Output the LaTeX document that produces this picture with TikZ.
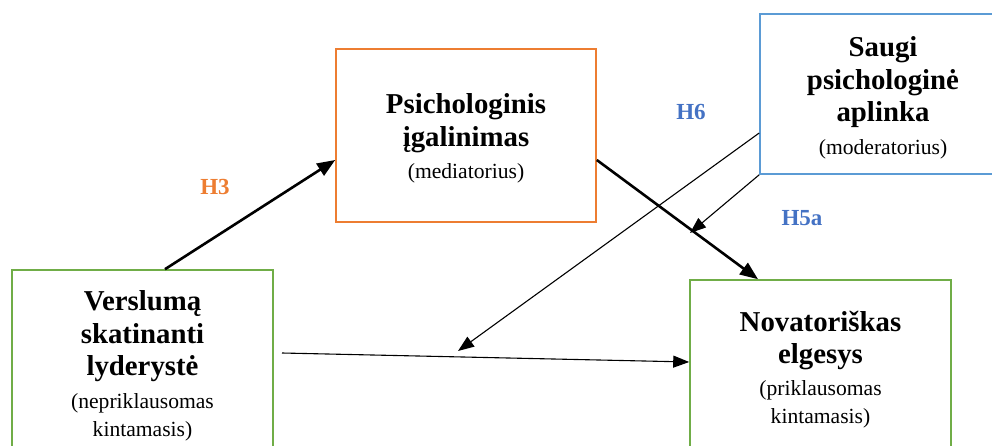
\documentclass[tikz,border=0pt]{standalone}
\usepackage{fontspec}
\setmainfont{Liberation Serif}
\usetikzlibrary{arrows.meta}

\definecolor{boxorange}{HTML}{ED7D31}
\definecolor{boxblue}{HTML}{5B9BD5}
\definecolor{boxgreen}{HTML}{70AD47}
\definecolor{hypblue}{HTML}{4472C4}

\newcommand{\titlefont}{\fontsize{28.8}{32.5}\selectfont\bfseries}
\newcommand{\rolefont}{\fontsize{21.6}{27}\selectfont\mdseries}

\tikzset{
  varbox/.style={draw, line width=1.6pt, rectangle, inner sep=0pt},
  vartext/.style={align=center, inner sep=0pt, font=\titlefont},
  strong/.style={line width=2.6pt, -{Triangle[length=18pt,width=14pt]}},
  weak/.style={line width=1.1pt, -{Triangle[length=16pt,width=12pt]}},
  hyp/.style={font=\fontsize{23}{26}\selectfont\bfseries, inner sep=0pt}
}

\begin{document}
\begin{tikzpicture}[x=1pt,y=-1pt]
  \useasboundingbox (0,0) rectangle (992,446);

  % variable boxes
  \node[varbox, draw=boxgreen, minimum width=261pt, minimum height=196pt] (vl) at (142.5,368) {};
  \node[varbox, draw=boxorange, minimum width=260pt, minimum height=173pt] (pi) at (466,135.5) {};
  \node[varbox, draw=boxblue, minimum width=246pt, minimum height=160pt] (sp) at (883,94) {};
  \node[varbox, draw=boxgreen, minimum width=261pt, minimum height=178pt] (ne) at (820.5,369) {};

  % box captions
  \node[vartext] (vl-t) at (142.5,366)
    {Verslumą\\skatinanti\\lyderystė\\{\rolefont(nepriklausomas}\\[-4.5pt]{\rolefont kintamasis)}};
  \node[vartext] (pi-t) at (466,138.5)
    {Psichologinis\\įgalinimas\\[-0.5pt]{\rolefont(mediatorius)}};
  \node[vartext] (sp-t) at (883,98)
    {Saugi\\psichologinė\\aplinka\\{\rolefont(moderatorius)}};
  \node[vartext] (ne-t) at (820.5,369.5)
    {Novatoriškas\\elgesys\\[-0.5pt]{\rolefont(priklausomas}\\[-4.5pt]{\rolefont kintamasis)}};

  % free ends of the moderation and direct-effect lines
  \coordinate (dstart) at (282,353);
  \coordinate (modA) at (458,351);
  \coordinate (modB) at (690,233);

  % paths
  \draw[strong] ([xshift=22.5pt]vl.north) -- ([yshift=-24.5pt]pi.west);
  \draw[strong] ([yshift=-24.5pt]pi.east) -- ([xshift=-62.5pt]ne.north);
  \draw[weak] (dstart) -- ([yshift=7pt]ne.west);
  \draw[weak] ([yshift=-39pt]sp.west) -- (modA);
  \draw[weak] (sp.south west) -- (modB);

  % hypothesis labels
  \node[hyp, text=boxorange] (h3) at (215,187) {H3};
  \node[hyp, text=hypblue] (h6) at (691,112) {H6};
  \node[hyp, text=hypblue] (h5a) at (802,218) {H5a};
\end{tikzpicture}
\end{document}
